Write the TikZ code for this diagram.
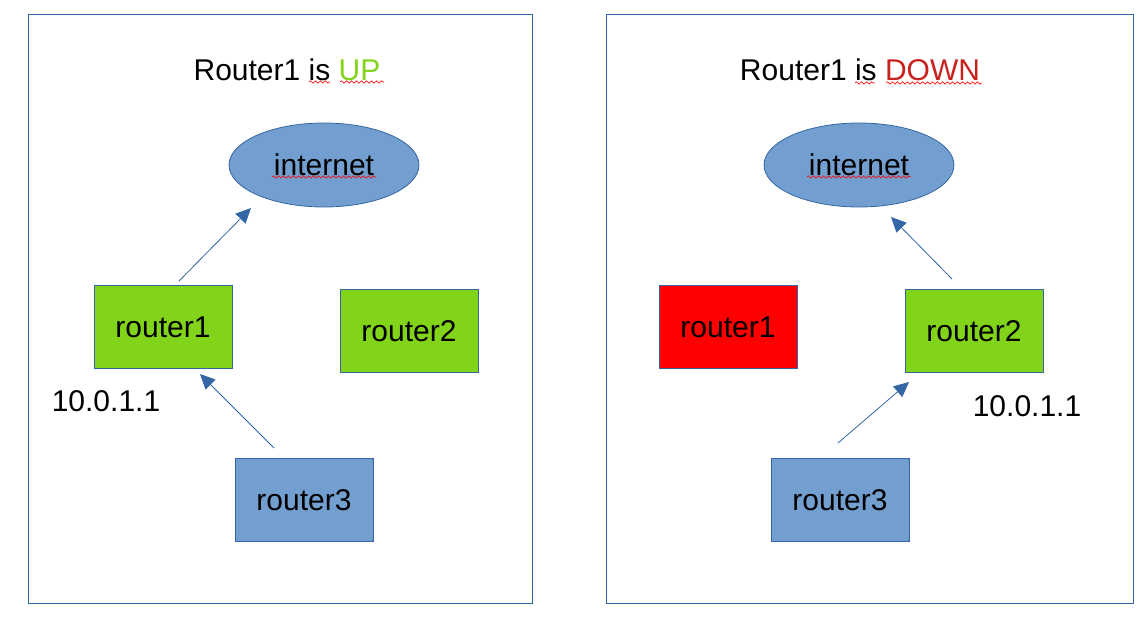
\documentclass[tikz,border=0pt]{standalone}
\usepackage{fontspec}
\setmainfont{Liberation Sans}
\usetikzlibrary{arrows.meta,shapes.geometric,decorations.pathmorphing}
\definecolor{lineblue}{HTML}{3465A4}
\definecolor{fillblue}{HTML}{729FCF}
\definecolor{limegreen}{HTML}{81D41A}
\definecolor{darkred}{HTML}{C9211E}

\begin{document}
\begin{tikzpicture}[x=1pt,y=-1pt,
  txt/.style={font=\fontsize{30}{36}\selectfont,inner sep=0pt},
  rt/.style={txt,draw=lineblue,line width=0.8pt,minimum width=138pt,
             minimum height=83pt},
  up/.style={rt,fill=limegreen},
  down/.style={rt,fill=red},
  client/.style={rt,fill=fillblue},
  cloud/.style={txt,ellipse,draw=lineblue,line width=0.8pt,fill=fillblue,
                minimum width=190pt,minimum height=84pt},
  frame/.style={draw=lineblue,line width=0.8pt},
  conn/.style={draw=lineblue,line width=0.8pt,
               -{Triangle[length=15pt,width=14pt]}},
  wavy/.style={draw=red,line width=0.6pt,
               decorate,decoration={snake,amplitude=1.2pt,segment length=5pt}}]
\useasboundingbox (0,0) rectangle (1147,621);
% panels
\draw[frame] (28,14) rectangle (532,603);
\draw[frame] (606,14) rectangle (1133,603);
% left: router1 up
\node[txt] (titleL) at (287,70) {Router1 is \textcolor{limegreen}{UP}};
\node[cloud] (netL) at (324,165) {internet};
\node[up] (r1L) at (163,327) {router1};
\node[up] (r2L) at (409,331) {router2};
\node[client] (r3L) at (304,500) {router3};
\node[txt] (ipL) at (106,401) {10.0.1.1};
\coordinate (r1Lout) at (179,281);
\coordinate (netLin) at (251,208);
\coordinate (r3Lout) at (274,448);
\coordinate (r1Lin) at (200,374);
\draw[conn] (r1Lout) -- (netLin);
\draw[conn] (r3Lout) -- (r1Lin);
\draw[wavy] (309,82) -- (330,82);
\draw[wavy] (340,82) -- (384,82);
\draw[wavy] (272,177) -- (376,177);
% right: router1 down
\node[txt] (titleR) at (860,70) {Router1 is \textcolor{darkred}{DOWN}};
\node[cloud] (netR) at (859,165) {internet};
\node[down] (r1R) at (728,327) {router1};
\node[up] (r2R) at (974,331) {router2};
\node[client] (r3R) at (840,500) {router3};
\node[txt] (ipR) at (1027,406) {10.0.1.1};
\coordinate (r2Rout) at (952,279);
\coordinate (netRin) at (891,217);
\coordinate (r3Rout) at (838,443);
\coordinate (r2Rin) at (909,382);
\draw[conn] (r2Rout) -- (netRin);
\draw[conn] (r3Rout) -- (r2Rin);
\draw[wavy] (855,83) -- (875,83);
\draw[wavy] (886,83) -- (982,83);
\draw[wavy] (807,177) -- (911,177);
\end{tikzpicture}
\end{document}
